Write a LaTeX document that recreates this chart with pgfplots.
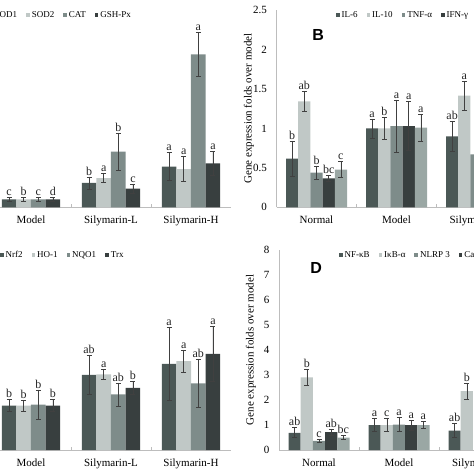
\documentclass[border=0pt]{standalone}
\usepackage{pgfplots}
\pgfplotsset{compat=1.18}
\usepackage{pgfplotstable}
\usepackage{fontspec}
\setmainfont{Liberation Serif}
\newfontfamily\panelfont{Liberation Sans}
\definecolor{c1}{HTML}{4B5856}
\definecolor{c2}{HTML}{C0C8C6}
\definecolor{c3}{HTML}{7E8C8A}
\definecolor{c4}{HTML}{383F3F}
\definecolor{c5}{HTML}{9AA7A4}
\definecolor{axgray}{HTML}{BDBDBD}

% ---------- Panel A (antioxidant enzymes) ----------
\pgfplotstableread{
x y e l
1 1.00 0.28 c
2 3.08 0.76 b
3 5.15 1.77 a
}\tAa
\pgfplotstableread{
x y e l
1 1.00 0.30 b
2 3.71 0.59 a
3 4.85 1.56 a
}\tAb
\pgfplotstableread{
x y e l
1 1.00 0.25 c
2 7.05 2.37 b
3 19.37 2.75 a
}\tAc
\pgfplotstableread{
x y e l
1 1.00 0.22 d
2 2.37 0.56 c
3 5.57 1.47 a
}\tAd
% ---------- Panel B (cytokines) ----------
\pgfplotstableread{
x y e l
0 0.617 0.22 b
1 1.00 0.12 a
2 0.90 0.19 ab
}\tBa
\pgfplotstableread{
x y e l
0 1.343 0.13 ab
1 1.00 0.14 b
2 1.415 0.18 a
}\tBb
\pgfplotstableread{
x y e l
0 0.44 0.08 b
1 1.03 0.33 a
2 0.67 0.12 a
}\tBc
\pgfplotstableread{
x y e l
0 0.368 0.035 bc
1 1.03 0.31 a
}\tBd
\pgfplotstableread{
x y e l
0 0.477 0.10 c
1 1.01 0.17 a
}\tBe
% ---------- Panel C (Nrf2 pathway) ----------
\pgfplotstableread{
x y e l
1 1.00 0.13 b
2 1.69 0.43 ab
3 1.94 0.82 a
}\tCa
\pgfplotstableread{
x y e l
1 1.00 0.12 b
2 1.70 0.11 a
3 2.00 0.25 a
}\tCb
\pgfplotstableread{
x y e l
1 1.02 0.33 b
2 1.25 0.26 ab
3 1.50 0.55 ab
}\tCc
\pgfplotstableread{
x y e l
1 1.00 0.13 b
2 1.40 0.14 b
3 2.16 0.62 a
}\tCd
% ---------- Panel D (inflammasome) ----------
\pgfplotstableread{
x y e l
0 0.69 0.20 ab
1 1.00 0.26 a
2 0.78 0.28 ab
}\tDa
\pgfplotstableread{
x y e l
0 2.90 0.31 b
1 1.00 0.27 c
2 2.35 0.31 b
}\tDb
\pgfplotstableread{
x y e l
0 0.37 0.05 c
1 1.02 0.27 a
}\tDc
\pgfplotstableread{
x y e l
0 0.72 0.12 ab
1 1.00 0.20 a
}\tDd
\pgfplotstableread{
x y e l
0 0.50 0.09 bc
1 1.00 0.13 a
}\tDe

\newcommand{\bars}[4]{%
  \addplot[ybar, bar width=\bw, bar shift=0pt, fill=#3, draw=none,
    error bars/.cd, y dir=both, y explicit,
    error bar style={line width=0.6pt, draw=black!75},
    error mark options={rotate=90, mark size=2.5pt, line width=0.6pt, draw=black!75}]
    table[x expr=\thisrow{x}+(#2), y=y, y error=e] {#1};
  \addlegendentry{#4}
  \addplot[forget plot, only marks, mark=*, mark size=0pt, mark options={draw=none, fill=none},
    nodes near coords, point meta=explicit symbolic,
    nodes near coords style={anchor=south, inner sep=1.5pt, font=\fontsize{12}{12}\selectfont, text=black!85}]
    table[x expr=\thisrow{x}+(#2), y expr=\thisrow{y}+\thisrow{e}, meta=l] {#1};
}

\pgfplotsset{
  panel/.style={
    scale only axis, width=320pt, xmin=-0.5, xmax=3.5, ymin=0,
    axis x line=bottom, axis y line=left,
    axis line style={-, draw=axgray, line width=0.7pt},
    major tick length=0pt,
    xtick={0,1,2,3},
    extra x ticks={0.5,1.5,2.5}, extra x tick labels={},
    extra x tick style={major tick length=3pt, tick align=inside, tick style={draw=axgray, line width=0.6pt}},
    xticklabel style={font=\fontsize{11}{12}\selectfont, yshift=-5pt},
    yticklabel style={font=\fontsize{11}{12}\selectfont, xshift=-6pt},
    /pgf/number format/assume math mode=true,
    ylabel={Gene expression folds over model},
    ylabel style={font=\fontsize{11}{12}\selectfont, anchor=center},
    legend columns=-1,
    legend image code/.code={\fill[##1] (0pt,-1.8pt) rectangle (3.6pt,1.8pt);},
    legend style={draw=none, fill=none, anchor=west, inner sep=0pt, outer sep=0pt,
      font=\fontsize{9}{10}\selectfont, nodes={inner sep=0pt}, column sep=0pt,
      /tikz/every even column/.append style={column sep=9pt},
      /tikz/every odd column/.append style={column sep=2pt}},
    clip=false,
  }
}

\begin{document}
\begin{tikzpicture}[x=1pt,y=1pt]
\useasboundingbox (0,0) rectangle (474,474);
\clip (0,0) rectangle (474,474);

% ---------------- Panel A ----------------
\def\bw{0.1825}
\begin{axis}[panel, at={(-89pt,266.7pt)}, anchor=south west, height=197.3pt, ymax=25,
  ytick={0,5,...,25},
  xticklabels={Normal,Model,Silymarin-L,Silymarin-H},
  ylabel style={at={(axis description cs:-0.086,0.5)}},
  legend style={at={(axis description cs:0.244,0.975)}}]
\bars{\tAa}{-0.274}{c1}{SOD1}
\bars{\tAb}{-0.091}{c2}{SOD2}
\bars{\tAc}{0.091}{c3}{CAT}
\bars{\tAd}{0.274}{c4}{GSH-Px}
\end{axis}

% ---------------- Panel B ----------------
\def\bw{0.1525}
\begin{axis}[panel, at={(276.5pt,266.7pt)}, anchor=south west, height=197.3pt, ymax=2.5,
  ytick={0,0.5,1,1.5,2,2.5},
  xticklabels={Normal,Model,Silymarin-L,Silymarin-H},
  ylabel style={at={(axis description cs:-0.086,0.5)}},
  legend style={at={(axis description cs:0.186,0.975)}}]
\bars{\tBa}{-0.305}{c1}{IL-6}
\bars{\tBb}{-0.1525}{c2}{IL-10}
\bars{\tBc}{0}{c3}{TNF-α}
\bars{\tBd}{0.1525}{c4}{IFN-γ}
\bars{\tBe}{0.305}{c5}{IL-1β}
\node[font=\panelfont\bfseries\fontsize{16}{16}\selectfont] at (axis description cs:0.13,0.873) {B};
\end{axis}

% ---------------- Panel C ----------------
\def\bw{0.1825}
\begin{axis}[panel, at={(-89pt,24pt)}, anchor=south west, height=200pt, ymax=4.5,
  ytick={0,0.5,...,4.5},
  xticklabels={Normal,Model,Silymarin-L,Silymarin-H},
  ylabel style={at={(axis description cs:-0.086,0.5)}},
  legend style={at={(axis description cs:0.278,0.974)}}]
\bars{\tCa}{-0.274}{c1}{Nrf2}
\bars{\tCb}{-0.091}{c2}{HO-1}
\bars{\tCc}{0.091}{c3}{NQO1}
\bars{\tCd}{0.274}{c4}{Trx}
\end{axis}

% ---------------- Panel D ----------------
\def\bw{0.1525}
\begin{axis}[panel, at={(279pt,24pt)}, anchor=south west, height=200pt, ymax=8,
  ytick={0,1,...,8},
  xticklabels={Normal,Model,Silymarin-L,Silymarin-H},
  ylabel style={at={(axis description cs:-0.0875,0.5)}},
  legend style={at={(axis description cs:0.1875,0.974)}}]
\bars{\tDa}{-0.305}{c1}{NF-κB}
\bars{\tDb}{-0.1525}{c2}{IκB-α}
\bars{\tDc}{0}{c3}{NLRP 3}
\bars{\tDd}{0.1525}{c4}{Caspase-1}
\bars{\tDe}{0.305}{c5}{IL-1β}
\node[font=\panelfont\bfseries\fontsize{16}{16}\selectfont] at (axis description cs:0.116,0.91) {D};
\end{axis}
\end{tikzpicture}
\end{document}
